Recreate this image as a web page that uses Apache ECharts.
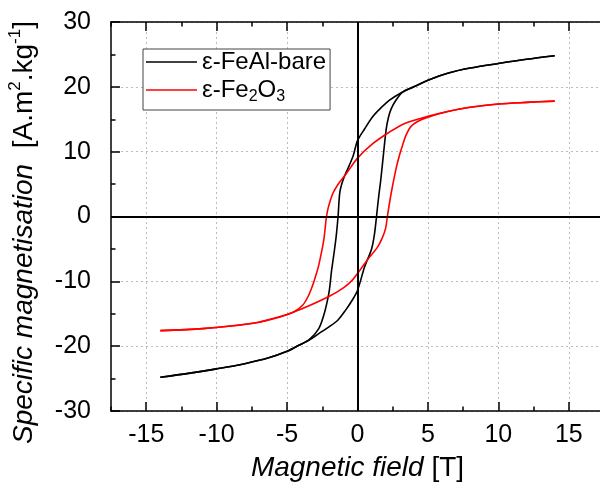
<!DOCTYPE html>
<html>
<head>
<meta charset="utf-8">
<script src="https://cdn.jsdelivr.net/npm/echarts@6/dist/echarts.min.js"></script>
<style>html,body{margin:0;padding:0;background:#fff;}#chart{width:600px;height:483px;}</style>
</head>
<body>
<div id="chart"></div>
<script>
// ---- data ----
const seriesNames = ['ε-FeAl-bare', 'ε-Fe2O3'];

// ε-FeAl-bare, field sweep +14 T -> -14 T
const bareDownField = [14, 12, 10, 8, 6.4, 5, 4, 3.2, 2.25, 1.5, 1.06, 0.5, 0, -0.3, -0.6, -1.0, -1.25, -1.38, -1.5, -1.65, -1.85, -2.0, -2.2, -2.39, -2.75, -3.43, -4.2, -5, -6.3, -8, -10, -12, -14];
const bareDownMag   = [24.8, 24.25, 23.6, 22.9, 22.1, 21.0, 20.0, 19.2, 17.9, 16.4, 15.35, 13.5, 11.7, 9.4, 7.8, 5.8, 3.8, 0, -2.8, -5.4, -8.5, -11.4, -13.6, -15.2, -17.3, -19.0, -19.9, -20.8, -21.8, -22.7, -23.5, -24.2, -24.8];
// ε-FeAl-bare, field sweep -14 T -> +14 T
const bareUpField = [-14, -12, -10, -8, -6.3, -5, -4.2, -3.43, -2.7, -2.0, -1.4, -0.83, -0.4, 0, 0.5, 1.0, 1.2, 1.35, 1.5, 1.65, 1.8, 2.04, 2.2, 2.39, 2.75, 3.2, 4, 5, 6.4, 8, 10, 12, 14];
const bareUpMag   = [-24.8, -24.2, -23.5, -22.7, -21.8, -20.8, -19.9, -19.06, -18.0, -17.0, -16.0, -14.4, -13.0, -11.4, -7.8, -5.0, -2.8, 0, 3.0, 5.6, 8.7, 13.5, 15.3, 16.6, 18.0, 19.2, 20.0, 21.0, 22.1, 22.9, 23.6, 24.25, 24.8];

// ε-Fe2O3, field sweep +14 T -> -14 T
const oxDownField = [14, 12, 10, 8, 6.4, 5, 3.4, 2.25, 1.06, 0, -0.8, -1.4, -1.76, -2.05, -2.2, -2.4, -2.75, -3.0, -3.2, -3.5, -3.9, -4.5, -5.5, -7, -9, -11, -14];
const oxDownMag   = [17.8, 17.6, 17.35, 16.85, 16.2, 15.45, 14.4, 13.0, 11.2, 9.0, 6.6, 4.9, 3.5, 1.6, 0, -3.7, -7.5, -9.4, -10.7, -12.3, -13.7, -14.7, -15.5, -16.3, -16.9, -17.3, -17.6];
// ε-Fe2O3, field sweep -14 T -> +14 T
const oxUpField = [-14, -11, -9, -7, -6.28, -5, -3.9, -2.0, -1.0, -0.4, 0, 0.8, 1.4, 1.76, 2.0, 2.12, 2.4, 2.75, 3.0, 3.2, 3.45, 3.8, 4.3, 4.9, 6.4, 8, 10, 12, 14];
const oxUpMag   = [-17.6, -17.3, -16.9, -16.3, -15.9, -15.1, -14.2, -12.3, -11.0, -9.9, -8.8, -6.4, -4.8, -3.3, -1.8, 0, 3.7, 7.5, 9.6, 11.0, 12.6, 13.9, 14.7, 15.25, 16.2, 16.85, 17.35, 17.6, 17.8];

const xMajorTicks = [-15, -10, -5, 0, 5, 10, 15];
const xMinorTicks = [-17.5, -12.5, -7.5, -2.5, 2.5, 7.5, 12.5, 17.5];

// ---- chart ----
const FONT = 'Liberation Sans, Arial, sans-serif';
const pairs = (xs, ys) => xs.map((x, i) => [x, ys[i]]);
const chart = echarts.init(document.getElementById('chart'), null, {renderer: 'canvas'});

function lineSeries(name, xs, ys, color, extra) {
  return Object.assign({
    name: name,
    type: 'line',
    data: pairs(xs, ys),
    showSymbol: false,
    symbol: 'none',
    smooth: 0.3,
    xAxisIndex: 0,
    yAxisIndex: 0,
    lineStyle: {color: color, width: 1.6},
    itemStyle: {color: color},
    emphasis: {disabled: true},
    z: 3
  }, extra || {});
}

const tickStyle = {color: '#000', width: 1.5};
const baseX = {
  type: 'value', min: -17.5, max: 17.5, splitNumber: 7,
  axisLine: {show: false, onZero: false},
  axisTick: {show: false},
  axisLabel: {show: false},
  splitLine: {show: false}
};

const option = {
  animation: false,
  backgroundColor: '#fff',
  grid: {left: 111, top: 22, width: 493, height: 389, containLabel: false, outerBoundsMode: 'none'},
  legend: {
    orient: 'vertical',
    left: 143, top: 49,
    padding: [1, 4, 5, 3],
    icon: 'rect',
    itemWidth: 51, itemHeight: 1.6, itemGap: 4,
    borderColor: '#444', borderWidth: 1,
    backgroundColor: '#fff',
    data: seriesNames,
    textStyle: {
      color: '#000', fontFamily: FONT, fontSize: 24,
      rich: {
        n: {fontSize: 24, fontFamily: FONT, color: '#000', lineHeight: 30, verticalAlign: 'middle'},
        s: {fontSize: 16, fontFamily: FONT, color: '#000', lineHeight: 15, verticalAlign: 'bottom'}
      }
    },
    formatter: function (name) {
      if (name === 'ε-Fe2O3') return '{n|ε-Fe}{s|2}{n|O}{s|3}';
      return '{n|' + name + '}';
    }
  },
  xAxis: [
    Object.assign({}, baseX, {
      position: 'bottom',
      axisLine: {show: true, onZero: false, lineStyle: {color: '#000', width: 1.5}},
      axisTick: {show: true, inside: true, length: 9, customValues: xMajorTicks, lineStyle: tickStyle},
      axisLabel: {show: true, customValues: xMajorTicks, color: '#000', fontSize: 25, fontFamily: FONT, margin: 12},
      splitLine: {show: true, lineStyle: {color: '#bcbcbc', width: 1, type: [2, 3]}},
      name: '{i|Magnetic field}{n| [T]}',
      nameLocation: 'middle',
      nameGap: 43,
      nameTextStyle: {
        rich: {
          i: {fontSize: 28, fontStyle: 'italic', fontFamily: FONT, color: '#000'},
          n: {fontSize: 28, fontFamily: FONT, color: '#000'}
        }
      }
    }),
    Object.assign({}, baseX, {
      position: 'bottom',
      axisTick: {show: true, inside: true, length: 4.5, customValues: xMinorTicks, lineStyle: tickStyle}
    }),
    Object.assign({}, baseX, {
      position: 'top',
      axisLine: {show: true, onZero: false, lineStyle: {color: '#000', width: 1.5}},
      axisTick: {show: true, inside: true, length: 9, customValues: xMajorTicks, lineStyle: tickStyle}
    }),
    Object.assign({}, baseX, {
      position: 'top',
      axisTick: {show: true, inside: true, length: 4.5, customValues: xMinorTicks, lineStyle: tickStyle}
    })
  ],
  yAxis: [{
    type: 'value', min: -30, max: 30, interval: 10,
    position: 'left',
    axisLine: {show: true, onZero: false, lineStyle: {color: '#000', width: 1.5}},
    axisTick: {show: true, inside: true, length: 9, lineStyle: tickStyle},
    minorTick: {show: true, splitNumber: 2, length: 4.5, lineStyle: tickStyle},
    axisLabel: {color: '#000', fontSize: 25, fontFamily: FONT, margin: 20},
    splitLine: {show: true, lineStyle: {color: '#bcbcbc', width: 1, type: [2, 3]}},
    name: '{i|Specific magnetisation}{n|  [A.m}{p|2}{n|.kg}{p|-1}{n|]}',
    nameLocation: 'middle',
    nameRotate: 90,
    nameGap: 70,
    nameTextStyle: {
      padding: [0, 32, 0, 0],
      rich: {
        i: {fontSize: 28, fontStyle: 'italic', fontFamily: FONT, color: '#000', lineHeight: 34},
        n: {fontSize: 28, fontFamily: FONT, color: '#000', lineHeight: 34},
        p: {fontSize: 17, fontFamily: FONT, color: '#000', lineHeight: 17, verticalAlign: 'top'}
      }
    }
  }],
  series: [
    lineSeries(seriesNames[0], bareDownField, bareDownMag, '#000000', {
      markLine: {
        silent: true, symbol: 'none', animation: false,
        label: {show: false},
        lineStyle: {color: '#000', width: 2, type: 'solid'},
        emphasis: {disabled: true},
        data: [{xAxis: 0}, {yAxis: 0}]
      }
    }),
    lineSeries(seriesNames[0], bareUpField, bareUpMag, '#000000'),
    lineSeries(seriesNames[1], oxDownField, oxDownMag, '#ff0000'),
    lineSeries(seriesNames[1], oxUpField, oxUpMag, '#ff0000')
  ]
};
chart.setOption(option);
</script>
</body>
</html>
